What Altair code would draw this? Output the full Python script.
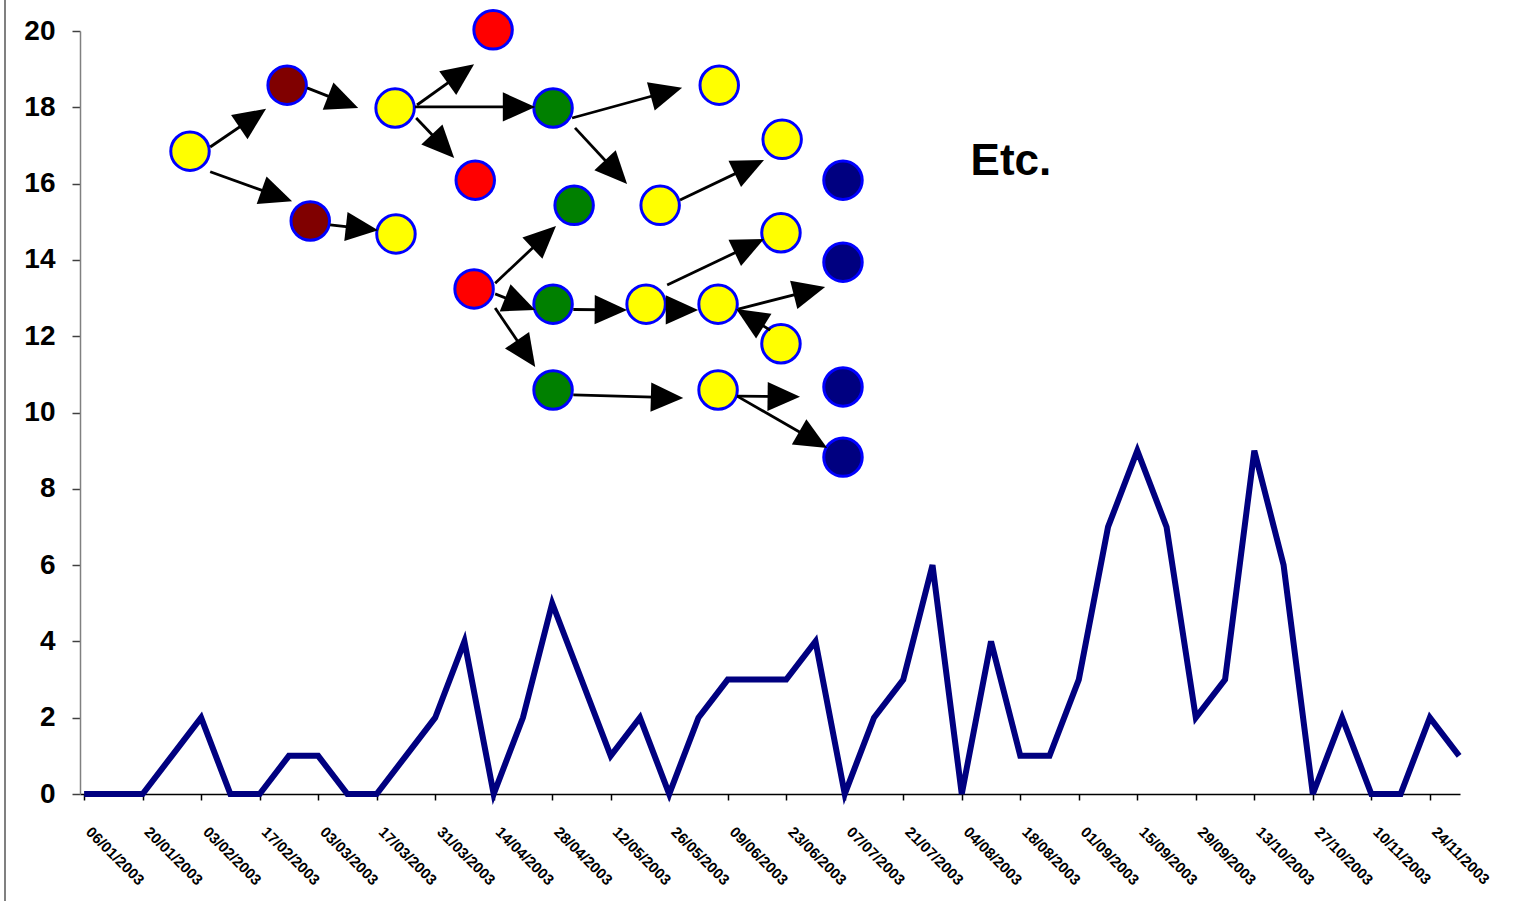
import math
import altair as alt
import pandas as pd

# ---- main series (48 points) ----
values = [0, 0, 0, 1, 2, 0, 0, 1, 1, 0, 0, 1, 2, 4, 0, 2, 5, 3, 1, 2, 0, 2, 3, 3,
          3, 4, 0, 2, 3, 6, 0, 4, 1, 1, 3, 7, 9, 7, 2, 3, 9, 6, 0, 2, 0, 0, 2, 1]
tick_labels = ["06/01/2003", "20/01/2003", "03/02/2003", "17/02/2003", "03/03/2003",
               "17/03/2003", "31/03/2003", "14/04/2003", "28/04/2003", "12/05/2003",
               "26/05/2003", "09/06/2003", "23/06/2003", "07/07/2003", "21/07/2003",
               "04/08/2003", "18/08/2003", "01/09/2003", "15/09/2003", "29/09/2003",
               "13/10/2003", "27/10/2003", "10/11/2003", "24/11/2003"]
y_ticks = [0, 2, 4, 6, 8, 10, 12, 14, 16, 18, 20]

# ---- diagram nodes (in chart units) ----
node_x = [3.62, 6.94, 7.73, 10.66, 10.63, 13.98, 13.37, 16.03, 21.71, 23.86, 19.69, 25.94,
          16.75, 13.33, 16.03, 19.21, 21.67, 23.82, 23.82, 25.94, 16.03, 21.67, 25.94, 25.94]
node_y = [16.85, 18.58, 15.02, 14.68, 17.98, 20.03, 16.09, 17.98, 18.58, 17.16, 15.43, 16.09,
          15.43, 13.24, 12.84, 12.84, 12.84, 14.71, 11.80, 13.94, 10.59, 10.59, 10.67, 8.83]
node_kind = ["yellow", "darkred", "darkred", "yellow", "yellow", "red", "red", "green",
             "yellow", "yellow", "yellow", "navy", "green", "red", "green", "yellow",
             "yellow", "yellow", "yellow", "navy", "green", "yellow", "navy", "navy"]

# ---- diagram arrows (start -> tip, chart units) ----
arr_x1 = [4.31, 4.31, 7.62, 8.41, 11.38, 11.31, 11.35, 14.05, 16.68, 16.78, 20.37,
          14.05, 14.05, 16.72, 19.96, 19.93, 22.36, 23.45, 16.72, 22.32, 22.32]
arr_y1 = [16.96, 16.31, 18.51, 14.92, 18.06, 18.01, 17.72, 13.39, 17.72, 17.46, 15.57,
          13.11, 12.74, 12.70, 12.69, 13.34, 12.71, 12.16, 10.46, 10.43, 10.43]
arr_x2 = [6.22, 7.11, 9.37, 10.05, 13.33, 15.42, 12.65, 16.13, 20.44, 18.56, 23.24,
          15.42, 15.42, 18.56, 20.99, 23.24, 25.33, 22.29, 20.48, 24.47, 25.40]
arr_y2 = [17.96, 15.54, 17.98, 14.78, 19.13, 18.01, 16.67, 14.89, 18.51, 15.99, 16.62,
          12.69, 11.19, 12.69, 12.69, 14.55, 13.29, 12.71, 10.38, 10.41, 9.07]

annotation_text = ["Etc."]
annotation_x = [30.3]
annotation_y = [16.23]

# ---- layout ----
W, H = 1380, 763
XD = [-0.14, 47.03]
YD = [0, 20]
pxx = W / (XD[1] - XD[0])
pxy = H / (YD[1] - YD[0])

line_df = pd.DataFrame({"i": list(range(len(values))), "v": values})
nodes_df = pd.DataFrame({"x": node_x, "y": node_y, "kind": node_kind})

rows = []
for x1, y1, x2, y2 in zip(arr_x1, arr_y1, arr_x2, arr_y2):
    dx = (x2 - x1) * pxx
    dy = -(y2 - y1) * pxy
    L = math.hypot(dx, dy)
    ang = math.degrees(math.atan2(dy, dx)) % 360
    back = min(12.0, L)
    xe = x2 - (dx / L) * back / pxx
    ye = y2 + (dy / L) * back / pxy
    rows.append({"x1": x1, "y1": y1, "xe": xe, "ye": ye, "x2": x2, "y2": y2, "ang": ang})
arrows_df = pd.DataFrame(rows)
text_df = pd.DataFrame({"x": annotation_x, "y": annotation_y, "t": annotation_text})

x_scale = alt.Scale(domain=XD, nice=False, zero=False)
y_scale = alt.Scale(domain=YD, nice=False, zero=False)

label_array = "[" + ",".join("'" + s + "'" for s in tick_labels) + "]"

x_axis = alt.Axis(
    values=list(range(0, 48, 2)),
    labelExpr=label_array + "[round(datum.value / 2)]",
    labelAngle=45, labelAlign="left", labelBaseline="top",
    labelFontSize=15, labelFontWeight="bold", labelColor="black",
    labelPadding=24, labelOffset=9, labelFlush=False, labelOverlap=False, labelBound=False,
    tickSize=6, tickColor="black", tickWidth=1.5,
    domainColor="black", domainWidth=1.5, grid=False, title=None,
)
y_axis = alt.Axis(
    values=y_ticks, labelFontSize=28, labelFontWeight="bold", labelColor="black",
    labelPadding=17, labelFlush=False, tickSize=8, tickColor="#404040", tickWidth=1.5,
    domainColor="#808080", domainWidth=1.5, grid=False, title=None,
)

line = alt.Chart(line_df).mark_line(color="#000080", strokeWidth=6, strokeJoin="miter").encode(
    x=alt.X("i:Q", scale=x_scale, axis=x_axis),
    y=alt.Y("v:Q", scale=y_scale, axis=y_axis),
)

kind_scale = alt.Scale(domain=["yellow", "darkred", "red", "green", "navy"],
                       range=["#FFFF00", "#800000", "#FF0000", "#008000", "#000080"])
circles = alt.Chart(nodes_df).mark_point(
    shape="circle", filled=True, size=1480, stroke="#0000FF", strokeWidth=3,
    opacity=1, fillOpacity=1, strokeOpacity=1,
).encode(
    x=alt.X("x:Q", scale=x_scale, axis=x_axis),
    y=alt.Y("y:Q", scale=y_scale, axis=y_axis),
    fill=alt.Fill("kind:N", scale=kind_scale, legend=None),
)

shafts = alt.Chart(arrows_df).mark_rule(color="black", strokeWidth=2.8).encode(
    x=alt.X("x1:Q", scale=x_scale, axis=x_axis),
    y=alt.Y("y1:Q", scale=y_scale, axis=y_axis),
    x2="xe:Q", y2="ye:Q",
)
heads = alt.Chart(arrows_df).mark_point(
    shape="M0,0L-2,-0.9L-2,0.9Z", filled=True, size=1050, color="black",
    opacity=1, strokeWidth=0,
).encode(
    x=alt.X("x2:Q", scale=x_scale, axis=x_axis),
    y=alt.Y("y2:Q", scale=y_scale, axis=y_axis),
    angle=alt.Angle("ang:Q", scale=None),
)

label = alt.Chart(text_df).mark_text(
    align="left", baseline="alphabetic", fontSize=44, fontWeight="bold",
    font="Liberation Sans", color="black",
).encode(
    x=alt.X("x:Q", scale=x_scale, axis=x_axis),
    y=alt.Y("y:Q", scale=y_scale, axis=y_axis),
    text="t:N",
)

frame = alt.Chart(line_df.head(1)).mark_rule(color="#808080", strokeWidth=2).encode(
    x=alt.value(-75), y=alt.value(-31), y2=alt.value(870),
)

chart = alt.layer(line, circles, shafts, heads, label, frame).properties(
    width=W, height=H,
    autosize=alt.AutoSizeParams(type="none"),
    padding={"left": 80, "top": 31, "right": 1519 - 80 - W, "bottom": 901 - 31 - H},
).configure(font="Liberation Sans", background="white").configure_view(stroke=None)

chart.save("out.html", embed_options={"renderer": "svg", "actions": False})
